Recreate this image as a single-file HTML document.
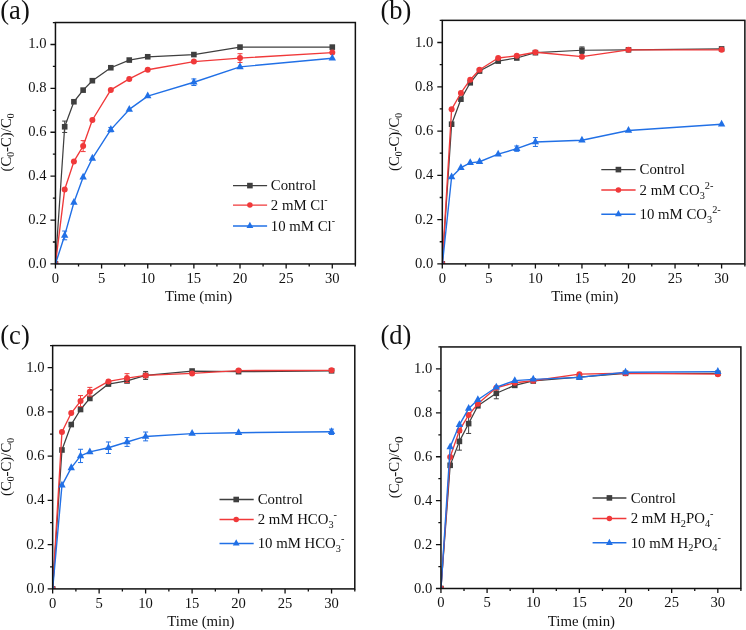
<!DOCTYPE html>
<html><head><meta charset="utf-8"><style>
html,body{margin:0;padding:0;background:#fff;overflow:hidden;}
svg{display:block;will-change:transform;}
text{font-family:"Liberation Serif", serif;fill:#111;}
</style></head><body>
<svg width="746" height="630" viewBox="0 0 746 630">
<rect width="746" height="630" fill="#fff"/>
<clipPath id="clipa"><rect x="55.45" y="22.53" width="299.91" height="241.42"/></clipPath>
<g clip-path="url(#clipa)">
<polyline points="55.45,263.95 64.68,126.78 73.91,101.76 83.13,90.13 92.36,80.69 110.82,67.74 129.27,60.06 147.73,56.77 193.87,54.58 240.01,47.11 332.29,47.11" fill="none" stroke="#3f3f3f" stroke-width="1.25" stroke-linejoin="round"/>
<path d="M64.68,121.08 V132.49 M62.18,121.08 H67.18 M62.18,132.49 H67.18" stroke="#3f3f3f" stroke-width="1" fill="none"/>
<rect x="52.65" y="261.15" width="5.60" height="5.60" fill="#3f3f3f"/>
<rect x="61.88" y="123.98" width="5.60" height="5.60" fill="#3f3f3f"/>
<rect x="71.11" y="98.96" width="5.60" height="5.60" fill="#3f3f3f"/>
<rect x="80.33" y="87.33" width="5.60" height="5.60" fill="#3f3f3f"/>
<rect x="89.56" y="77.89" width="5.60" height="5.60" fill="#3f3f3f"/>
<rect x="108.02" y="64.94" width="5.60" height="5.60" fill="#3f3f3f"/>
<rect x="126.47" y="57.26" width="5.60" height="5.60" fill="#3f3f3f"/>
<rect x="144.93" y="53.97" width="5.60" height="5.60" fill="#3f3f3f"/>
<rect x="191.07" y="51.78" width="5.60" height="5.60" fill="#3f3f3f"/>
<rect x="237.21" y="44.31" width="5.60" height="5.60" fill="#3f3f3f"/>
<rect x="329.49" y="44.31" width="5.60" height="5.60" fill="#3f3f3f"/>
<polyline points="55.45,263.95 64.68,189.55 73.91,161.46 83.13,146.09 92.36,119.98 110.82,89.91 129.27,78.94 147.73,69.72 193.87,61.60 240.01,58.09 332.29,52.60" fill="none" stroke="#f0393a" stroke-width="1.35" stroke-linejoin="round"/>
<path d="M83.13,140.61 V151.58 M80.63,140.61 H85.63 M80.63,151.58 H85.63" stroke="#f0393a" stroke-width="1" fill="none"/>
<path d="M240.01,53.70 V62.48 M237.51,53.70 H242.51 M237.51,62.48 H242.51" stroke="#f0393a" stroke-width="1" fill="none"/>
<circle cx="55.45" cy="263.95" r="3.00" fill="#f0393a"/>
<circle cx="64.68" cy="189.55" r="3.00" fill="#f0393a"/>
<circle cx="73.91" cy="161.46" r="3.00" fill="#f0393a"/>
<circle cx="83.13" cy="146.09" r="3.00" fill="#f0393a"/>
<circle cx="92.36" cy="119.98" r="3.00" fill="#f0393a"/>
<circle cx="110.82" cy="89.91" r="3.00" fill="#f0393a"/>
<circle cx="129.27" cy="78.94" r="3.00" fill="#f0393a"/>
<circle cx="147.73" cy="69.72" r="3.00" fill="#f0393a"/>
<circle cx="193.87" cy="61.60" r="3.00" fill="#f0393a"/>
<circle cx="240.01" cy="58.09" r="3.00" fill="#f0393a"/>
<circle cx="332.29" cy="52.60" r="3.00" fill="#f0393a"/>
<polyline points="55.45,263.95 64.68,235.42 73.91,202.50 83.13,177.26 92.36,158.38 110.82,129.63 129.27,109.44 147.73,96.06 193.87,82.23 240.01,66.87 332.29,58.31" fill="none" stroke="#2170e6" stroke-width="1.4" stroke-linejoin="round"/>
<path d="M64.68,231.03 V239.81 M62.18,231.03 H67.18 M62.18,239.81 H67.18" stroke="#2170e6" stroke-width="1" fill="none"/>
<path d="M110.82,127.44 V131.83 M108.32,127.44 H113.32 M108.32,131.83 H113.32" stroke="#2170e6" stroke-width="1" fill="none"/>
<path d="M193.87,78.94 V85.52 M191.37,78.94 H196.37 M191.37,85.52 H196.37" stroke="#2170e6" stroke-width="1" fill="none"/>
<path d="M55.45,259.42 L59.15,266.22 L51.75,266.22 Z" fill="#2170e6"/>
<path d="M64.68,230.89 L68.38,237.69 L60.98,237.69 Z" fill="#2170e6"/>
<path d="M73.91,197.97 L77.61,204.77 L70.21,204.77 Z" fill="#2170e6"/>
<path d="M83.13,172.73 L86.83,179.53 L79.43,179.53 Z" fill="#2170e6"/>
<path d="M92.36,153.85 L96.06,160.65 L88.66,160.65 Z" fill="#2170e6"/>
<path d="M110.82,125.10 L114.52,131.90 L107.12,131.90 Z" fill="#2170e6"/>
<path d="M129.27,104.91 L132.97,111.71 L125.57,111.71 Z" fill="#2170e6"/>
<path d="M147.73,91.52 L151.43,98.32 L144.03,98.32 Z" fill="#2170e6"/>
<path d="M193.87,77.70 L197.57,84.50 L190.17,84.50 Z" fill="#2170e6"/>
<path d="M240.01,62.33 L243.71,69.13 L236.31,69.13 Z" fill="#2170e6"/>
<path d="M332.29,53.77 L335.99,60.57 L328.59,60.57 Z" fill="#2170e6"/>
</g>
<rect x="55.45" y="22.53" width="299.91" height="241.42" fill="none" stroke="#111" stroke-width="1.5"/>
<path d="M55.45,263.95 V268.55 M78.52,263.95 V266.55 M101.59,263.95 V268.55 M124.66,263.95 V266.55 M147.73,263.95 V268.55 M170.80,263.95 V266.55 M193.87,263.95 V268.55 M216.94,263.95 V266.55 M240.01,263.95 V268.55 M263.08,263.95 V266.55 M286.15,263.95 V268.55 M309.22,263.95 V266.55 M332.29,263.95 V268.55 M355.36,263.95 V266.55 M55.45,263.95 H50.45 M55.45,242.00 H52.85 M55.45,220.06 H50.45 M55.45,198.11 H52.85 M55.45,176.16 H50.45 M55.45,154.21 H52.85 M55.45,132.27 H50.45 M55.45,110.32 H52.85 M55.45,88.37 H50.45 M55.45,66.43 H52.85 M55.45,44.48 H50.45 M55.45,22.53 H52.85" stroke="#111" stroke-width="1.3" fill="none"/>
<text x="55.45" y="282.55" text-anchor="middle" font-size="14.6">0</text>
<text x="101.59" y="282.55" text-anchor="middle" font-size="14.6">5</text>
<text x="147.73" y="282.55" text-anchor="middle" font-size="14.6">10</text>
<text x="193.87" y="282.55" text-anchor="middle" font-size="14.6">15</text>
<text x="240.01" y="282.55" text-anchor="middle" font-size="14.6">20</text>
<text x="286.15" y="282.55" text-anchor="middle" font-size="14.6">25</text>
<text x="332.29" y="282.55" text-anchor="middle" font-size="14.6">30</text>
<text x="46.45" y="267.95" text-anchor="end" font-size="14.6">0.0</text>
<text x="46.45" y="224.06" text-anchor="end" font-size="14.6">0.2</text>
<text x="46.45" y="180.16" text-anchor="end" font-size="14.6">0.4</text>
<text x="46.45" y="136.27" text-anchor="end" font-size="14.6">0.6</text>
<text x="46.45" y="92.37" text-anchor="end" font-size="14.6">0.8</text>
<text x="46.45" y="48.48" text-anchor="end" font-size="14.6">1.0</text>
<text x="198.60" y="301.30" text-anchor="middle" font-size="14.8">Time (min)</text>
<text transform="translate(11.00,142.50) rotate(-90)" text-anchor="middle" font-size="14.8">(C<tspan dy="3" font-size="9.5">0</tspan><tspan dy="-3">-C)/C</tspan><tspan dy="3" font-size="9.5">0</tspan></text>
<text x="0.30" y="18.80" font-size="26.5">(a)</text>
<line x1="233.00" y1="185.60" x2="267.10" y2="185.60" stroke="#3f3f3f" stroke-width="1.45"/>
<rect x="247.10" y="182.80" width="5.60" height="5.60" fill="#3f3f3f"/>
<text x="270.80" y="190.40" font-size="14.8">Control</text>
<line x1="233.00" y1="205.10" x2="267.10" y2="205.10" stroke="#f0393a" stroke-width="1.45"/>
<circle cx="249.90" cy="205.10" r="2.76" fill="#f0393a"/>
<text x="270.80" y="209.90" font-size="14.8">2 mM Cl<tspan dy="-6.8" font-size="10">-</tspan></text>
<line x1="233.00" y1="226.00" x2="267.10" y2="226.00" stroke="#2170e6" stroke-width="1.45"/>
<path d="M249.90,221.83 L253.30,228.09 L246.50,228.09 Z" fill="#2170e6"/>
<text x="270.80" y="230.80" font-size="14.8">10 mM Cl<tspan dy="-6.8" font-size="10">-</tspan></text>
<clipPath id="clipb"><rect x="442.30" y="20.36" width="302.57" height="243.54"/></clipPath>
<g clip-path="url(#clipb)">
<polyline points="442.30,263.90 451.61,124.20 460.92,99.18 470.23,82.79 479.54,71.06 498.16,61.10 516.78,58.00 535.40,52.68 581.95,50.25 628.50,49.81 721.60,48.92" fill="none" stroke="#3f3f3f" stroke-width="1.25" stroke-linejoin="round"/>
<path d="M581.95,46.93 V53.57 M579.45,46.93 H584.45 M579.45,53.57 H584.45" stroke="#3f3f3f" stroke-width="1" fill="none"/>
<rect x="439.50" y="261.10" width="5.60" height="5.60" fill="#3f3f3f"/>
<rect x="448.81" y="121.40" width="5.60" height="5.60" fill="#3f3f3f"/>
<rect x="458.12" y="96.38" width="5.60" height="5.60" fill="#3f3f3f"/>
<rect x="467.43" y="79.99" width="5.60" height="5.60" fill="#3f3f3f"/>
<rect x="476.74" y="68.26" width="5.60" height="5.60" fill="#3f3f3f"/>
<rect x="495.36" y="58.30" width="5.60" height="5.60" fill="#3f3f3f"/>
<rect x="513.98" y="55.20" width="5.60" height="5.60" fill="#3f3f3f"/>
<rect x="532.60" y="49.88" width="5.60" height="5.60" fill="#3f3f3f"/>
<rect x="579.15" y="47.45" width="5.60" height="5.60" fill="#3f3f3f"/>
<rect x="625.70" y="47.01" width="5.60" height="5.60" fill="#3f3f3f"/>
<rect x="718.80" y="46.12" width="5.60" height="5.60" fill="#3f3f3f"/>
<polyline points="442.30,263.90 451.61,109.36 460.92,92.98 470.23,79.70 479.54,69.73 498.16,58.00 516.78,55.78 535.40,52.24 581.95,56.67 628.50,49.81 721.60,49.81" fill="none" stroke="#f0393a" stroke-width="1.35" stroke-linejoin="round"/>
<circle cx="442.30" cy="263.90" r="3.00" fill="#f0393a"/>
<circle cx="451.61" cy="109.36" r="3.00" fill="#f0393a"/>
<circle cx="460.92" cy="92.98" r="3.00" fill="#f0393a"/>
<circle cx="470.23" cy="79.70" r="3.00" fill="#f0393a"/>
<circle cx="479.54" cy="69.73" r="3.00" fill="#f0393a"/>
<circle cx="498.16" cy="58.00" r="3.00" fill="#f0393a"/>
<circle cx="516.78" cy="55.78" r="3.00" fill="#f0393a"/>
<circle cx="535.40" cy="52.24" r="3.00" fill="#f0393a"/>
<circle cx="581.95" cy="56.67" r="3.00" fill="#f0393a"/>
<circle cx="628.50" cy="49.81" r="3.00" fill="#f0393a"/>
<circle cx="721.60" cy="49.81" r="3.00" fill="#f0393a"/>
<polyline points="442.30,264.90 451.61,177.00 460.92,167.71 470.23,162.83 479.54,161.73 498.16,154.20 516.78,148.66 535.40,142.02 581.95,140.25 628.50,130.51 721.60,124.31" fill="none" stroke="#2170e6" stroke-width="1.4" stroke-linejoin="round"/>
<path d="M516.78,146.01 V151.32 M514.28,146.01 H519.28 M514.28,151.32 H519.28" stroke="#2170e6" stroke-width="1" fill="none"/>
<path d="M535.40,137.59 V146.45 M532.90,137.59 H537.90 M532.90,146.45 H537.90" stroke="#2170e6" stroke-width="1" fill="none"/>
<path d="M442.30,260.37 L446.00,267.17 L438.60,267.17 Z" fill="#2170e6"/>
<path d="M451.61,172.47 L455.31,179.27 L447.91,179.27 Z" fill="#2170e6"/>
<path d="M460.92,163.17 L464.62,169.97 L457.22,169.97 Z" fill="#2170e6"/>
<path d="M470.23,158.30 L473.93,165.10 L466.53,165.10 Z" fill="#2170e6"/>
<path d="M479.54,157.19 L483.24,163.99 L475.84,163.99 Z" fill="#2170e6"/>
<path d="M498.16,149.67 L501.86,156.47 L494.46,156.47 Z" fill="#2170e6"/>
<path d="M516.78,144.13 L520.48,150.93 L513.08,150.93 Z" fill="#2170e6"/>
<path d="M535.40,137.49 L539.10,144.29 L531.70,144.29 Z" fill="#2170e6"/>
<path d="M581.95,135.72 L585.65,142.52 L578.25,142.52 Z" fill="#2170e6"/>
<path d="M628.50,125.98 L632.20,132.78 L624.80,132.78 Z" fill="#2170e6"/>
<path d="M721.60,119.78 L725.30,126.58 L717.90,126.58 Z" fill="#2170e6"/>
</g>
<rect x="442.30" y="20.36" width="302.57" height="243.54" fill="none" stroke="#111" stroke-width="1.5"/>
<path d="M442.30,263.90 V268.50 M465.57,263.90 V266.50 M488.85,263.90 V268.50 M512.12,263.90 V266.50 M535.40,263.90 V268.50 M558.67,263.90 V266.50 M581.95,263.90 V268.50 M605.23,263.90 V266.50 M628.50,263.90 V268.50 M651.78,263.90 V266.50 M675.05,263.90 V268.50 M698.33,263.90 V266.50 M721.60,263.90 V268.50 M744.88,263.90 V266.50 M442.30,263.90 H437.30 M442.30,241.76 H439.70 M442.30,219.62 H437.30 M442.30,197.48 H439.70 M442.30,175.34 H437.30 M442.30,153.20 H439.70 M442.30,131.06 H437.30 M442.30,108.92 H439.70 M442.30,86.78 H437.30 M442.30,64.64 H439.70 M442.30,42.50 H437.30 M442.30,20.36 H439.70" stroke="#111" stroke-width="1.3" fill="none"/>
<text x="442.30" y="282.90" text-anchor="middle" font-size="14.6">0</text>
<text x="488.85" y="282.90" text-anchor="middle" font-size="14.6">5</text>
<text x="535.40" y="282.90" text-anchor="middle" font-size="14.6">10</text>
<text x="581.95" y="282.90" text-anchor="middle" font-size="14.6">15</text>
<text x="628.50" y="282.90" text-anchor="middle" font-size="14.6">20</text>
<text x="675.05" y="282.90" text-anchor="middle" font-size="14.6">25</text>
<text x="721.60" y="282.90" text-anchor="middle" font-size="14.6">30</text>
<text x="433.30" y="267.90" text-anchor="end" font-size="14.6">0.0</text>
<text x="433.30" y="223.62" text-anchor="end" font-size="14.6">0.2</text>
<text x="433.30" y="179.34" text-anchor="end" font-size="14.6">0.4</text>
<text x="433.30" y="135.06" text-anchor="end" font-size="14.6">0.6</text>
<text x="433.30" y="90.78" text-anchor="end" font-size="14.6">0.8</text>
<text x="433.30" y="46.50" text-anchor="end" font-size="14.6">1.0</text>
<text x="584.80" y="301.30" text-anchor="middle" font-size="14.8">Time (min)</text>
<text transform="translate(398.60,142.00) rotate(-90)" text-anchor="middle" font-size="14.8">(C<tspan dy="3" font-size="9.5">0</tspan><tspan dy="-3">-C)/C</tspan><tspan dy="3" font-size="9.5">0</tspan></text>
<text x="380.50" y="18.80" font-size="26.5">(b)</text>
<line x1="601.30" y1="169.60" x2="635.60" y2="169.60" stroke="#3f3f3f" stroke-width="1.45"/>
<rect x="615.60" y="166.80" width="5.60" height="5.60" fill="#3f3f3f"/>
<text x="639.60" y="174.40" font-size="14.8">Control</text>
<line x1="601.30" y1="189.90" x2="635.60" y2="189.90" stroke="#f0393a" stroke-width="1.45"/>
<circle cx="618.40" cy="189.90" r="2.76" fill="#f0393a"/>
<text x="639.60" y="194.70" font-size="14.8">2 mM CO<tspan dy="3.8" font-size="10.3">3</tspan><tspan dy="-9.8" font-size="10.3">2-</tspan></text>
<line x1="601.30" y1="214.20" x2="635.60" y2="214.20" stroke="#2170e6" stroke-width="1.45"/>
<path d="M618.40,210.03 L621.80,216.29 L615.00,216.29 Z" fill="#2170e6"/>
<text x="639.60" y="219.00" font-size="14.8">10 mM CO<tspan dy="3.8" font-size="10.3">3</tspan><tspan dy="-9.8" font-size="10.3">2-</tspan></text>
<clipPath id="clipc"><rect x="52.65" y="345.58" width="302.15" height="243.32"/></clipPath>
<g clip-path="url(#clipc)">
<polyline points="52.65,588.90 61.95,449.99 71.24,424.55 80.54,409.51 89.84,398.45 108.43,384.07 127.03,380.97 145.62,375.44 192.11,371.02 238.59,371.68 331.56,370.80" fill="none" stroke="#3f3f3f" stroke-width="1.25" stroke-linejoin="round"/>
<path d="M145.62,371.46 V379.42 M143.12,371.46 H148.12 M143.12,379.42 H148.12" stroke="#3f3f3f" stroke-width="1" fill="none"/>
<rect x="49.85" y="586.10" width="5.60" height="5.60" fill="#3f3f3f"/>
<rect x="59.15" y="447.19" width="5.60" height="5.60" fill="#3f3f3f"/>
<rect x="68.44" y="421.75" width="5.60" height="5.60" fill="#3f3f3f"/>
<rect x="77.74" y="406.71" width="5.60" height="5.60" fill="#3f3f3f"/>
<rect x="87.04" y="395.65" width="5.60" height="5.60" fill="#3f3f3f"/>
<rect x="105.63" y="381.27" width="5.60" height="5.60" fill="#3f3f3f"/>
<rect x="124.23" y="378.17" width="5.60" height="5.60" fill="#3f3f3f"/>
<rect x="142.82" y="372.64" width="5.60" height="5.60" fill="#3f3f3f"/>
<rect x="189.31" y="368.22" width="5.60" height="5.60" fill="#3f3f3f"/>
<rect x="235.79" y="368.88" width="5.60" height="5.60" fill="#3f3f3f"/>
<rect x="328.76" y="368.00" width="5.60" height="5.60" fill="#3f3f3f"/>
<polyline points="52.65,588.90 61.95,432.07 71.24,413.05 80.54,401.10 89.84,391.81 108.43,381.41 127.03,378.10 145.62,375.44 192.11,373.45 238.59,370.58 331.56,370.35" fill="none" stroke="#f0393a" stroke-width="1.35" stroke-linejoin="round"/>
<path d="M80.54,395.57 V406.63 M78.04,395.57 H83.04 M78.04,406.63 H83.04" stroke="#f0393a" stroke-width="1" fill="none"/>
<path d="M89.84,387.39 V396.23 M87.34,387.39 H92.34 M87.34,396.23 H92.34" stroke="#f0393a" stroke-width="1" fill="none"/>
<path d="M127.03,373.67 V382.52 M124.53,373.67 H129.53 M124.53,382.52 H129.53" stroke="#f0393a" stroke-width="1" fill="none"/>
<circle cx="52.65" cy="588.90" r="3.00" fill="#f0393a"/>
<circle cx="61.95" cy="432.07" r="3.00" fill="#f0393a"/>
<circle cx="71.24" cy="413.05" r="3.00" fill="#f0393a"/>
<circle cx="80.54" cy="401.10" r="3.00" fill="#f0393a"/>
<circle cx="89.84" cy="391.81" r="3.00" fill="#f0393a"/>
<circle cx="108.43" cy="381.41" r="3.00" fill="#f0393a"/>
<circle cx="127.03" cy="378.10" r="3.00" fill="#f0393a"/>
<circle cx="145.62" cy="375.44" r="3.00" fill="#f0393a"/>
<circle cx="192.11" cy="373.45" r="3.00" fill="#f0393a"/>
<circle cx="238.59" cy="370.58" r="3.00" fill="#f0393a"/>
<circle cx="331.56" cy="370.35" r="3.00" fill="#f0393a"/>
<polyline points="52.65,589.30 61.95,485.34 71.24,467.86 80.54,455.92 89.84,451.93 108.43,447.73 127.03,441.98 145.62,436.45 192.11,433.58 238.59,432.69 331.56,431.81" fill="none" stroke="#2170e6" stroke-width="1.4" stroke-linejoin="round"/>
<path d="M80.54,449.28 V462.55 M78.04,449.28 H83.04 M78.04,462.55 H83.04" stroke="#2170e6" stroke-width="1" fill="none"/>
<path d="M108.43,441.98 V453.48 M105.93,441.98 H110.93 M105.93,453.48 H110.93" stroke="#2170e6" stroke-width="1" fill="none"/>
<path d="M127.03,437.56 V446.40 M124.53,437.56 H129.53 M124.53,446.40 H129.53" stroke="#2170e6" stroke-width="1" fill="none"/>
<path d="M145.62,432.03 V440.87 M143.12,432.03 H148.12 M143.12,440.87 H148.12" stroke="#2170e6" stroke-width="1" fill="none"/>
<path d="M331.56,429.15 V434.46 M329.06,429.15 H334.06 M329.06,434.46 H334.06" stroke="#2170e6" stroke-width="1" fill="none"/>
<path d="M52.65,584.77 L56.35,591.57 L48.95,591.57 Z" fill="#2170e6"/>
<path d="M61.95,480.80 L65.65,487.60 L58.25,487.60 Z" fill="#2170e6"/>
<path d="M71.24,463.33 L74.94,470.13 L67.54,470.13 Z" fill="#2170e6"/>
<path d="M80.54,451.38 L84.24,458.18 L76.84,458.18 Z" fill="#2170e6"/>
<path d="M89.84,447.40 L93.54,454.20 L86.14,454.20 Z" fill="#2170e6"/>
<path d="M108.43,443.20 L112.13,450.00 L104.73,450.00 Z" fill="#2170e6"/>
<path d="M127.03,437.45 L130.73,444.25 L123.33,444.25 Z" fill="#2170e6"/>
<path d="M145.62,431.92 L149.32,438.72 L141.92,438.72 Z" fill="#2170e6"/>
<path d="M192.11,429.04 L195.81,435.84 L188.41,435.84 Z" fill="#2170e6"/>
<path d="M238.59,428.16 L242.29,434.96 L234.89,434.96 Z" fill="#2170e6"/>
<path d="M331.56,427.27 L335.26,434.07 L327.86,434.07 Z" fill="#2170e6"/>
</g>
<rect x="52.65" y="345.58" width="302.15" height="243.32" fill="none" stroke="#111" stroke-width="1.5"/>
<path d="M52.65,588.90 V593.50 M75.89,588.90 V591.50 M99.13,588.90 V593.50 M122.38,588.90 V591.50 M145.62,588.90 V593.50 M168.86,588.90 V591.50 M192.11,588.90 V593.50 M215.35,588.90 V591.50 M238.59,588.90 V593.50 M261.83,588.90 V591.50 M285.07,588.90 V593.50 M308.32,588.90 V591.50 M331.56,588.90 V593.50 M354.80,588.90 V591.50 M52.65,588.90 H47.65 M52.65,566.78 H50.05 M52.65,544.66 H47.65 M52.65,522.54 H50.05 M52.65,500.42 H47.65 M52.65,478.30 H50.05 M52.65,456.18 H47.65 M52.65,434.06 H50.05 M52.65,411.94 H47.65 M52.65,389.82 H50.05 M52.65,367.70 H47.65 M52.65,345.58 H50.05" stroke="#111" stroke-width="1.3" fill="none"/>
<text x="52.65" y="608.20" text-anchor="middle" font-size="14.6">0</text>
<text x="99.13" y="608.20" text-anchor="middle" font-size="14.6">5</text>
<text x="145.62" y="608.20" text-anchor="middle" font-size="14.6">10</text>
<text x="192.11" y="608.20" text-anchor="middle" font-size="14.6">15</text>
<text x="238.59" y="608.20" text-anchor="middle" font-size="14.6">20</text>
<text x="285.07" y="608.20" text-anchor="middle" font-size="14.6">25</text>
<text x="331.56" y="608.20" text-anchor="middle" font-size="14.6">30</text>
<text x="44.45" y="592.90" text-anchor="end" font-size="14.6">0.0</text>
<text x="44.45" y="548.66" text-anchor="end" font-size="14.6">0.2</text>
<text x="44.45" y="504.42" text-anchor="end" font-size="14.6">0.4</text>
<text x="44.45" y="460.18" text-anchor="end" font-size="14.6">0.6</text>
<text x="44.45" y="415.94" text-anchor="end" font-size="14.6">0.8</text>
<text x="44.45" y="371.70" text-anchor="end" font-size="14.6">1.0</text>
<text x="200.90" y="626.00" text-anchor="middle" font-size="14.8">Time (min)</text>
<text transform="translate(11.20,467.00) rotate(-90)" text-anchor="middle" font-size="14.8">(C<tspan dy="3" font-size="9.5">0</tspan><tspan dy="-3">-C)/C</tspan><tspan dy="3" font-size="9.5">0</tspan></text>
<text x="0.30" y="344.00" font-size="26.5">(c)</text>
<line x1="219.50" y1="499.50" x2="253.70" y2="499.50" stroke="#3f3f3f" stroke-width="1.45"/>
<rect x="233.40" y="496.70" width="5.60" height="5.60" fill="#3f3f3f"/>
<text x="257.70" y="504.30" font-size="14.8">Control</text>
<line x1="219.50" y1="519.50" x2="253.70" y2="519.50" stroke="#f0393a" stroke-width="1.45"/>
<circle cx="236.20" cy="519.50" r="2.76" fill="#f0393a"/>
<text x="257.70" y="524.30" font-size="14.8">2 mM HCO<tspan dy="3.8" font-size="10.3">3</tspan><tspan dy="-10.3" font-size="10.3">-</tspan></text>
<line x1="219.50" y1="543.50" x2="253.70" y2="543.50" stroke="#2170e6" stroke-width="1.45"/>
<path d="M236.20,539.33 L239.60,545.59 L232.80,545.59 Z" fill="#2170e6"/>
<text x="257.70" y="548.30" font-size="14.8">10 mM HCO<tspan dy="3.8" font-size="10.3">3</tspan><tspan dy="-10.3" font-size="10.3">-</tspan></text>
<clipPath id="clipd"><rect x="440.95" y="346.94" width="299.94" height="241.56"/></clipPath>
<g clip-path="url(#clipd)">
<polyline points="440.95,588.50 450.18,465.30 459.41,441.37 468.64,423.58 477.87,405.79 496.32,393.28 514.78,385.37 533.24,380.98 579.38,377.03 625.53,373.29 717.82,373.29" fill="none" stroke="#3f3f3f" stroke-width="1.25" stroke-linejoin="round"/>
<path d="M459.41,432.58 V450.15 M456.91,432.58 H461.91 M456.91,450.15 H461.91" stroke="#3f3f3f" stroke-width="1" fill="none"/>
<path d="M468.64,413.70 V433.46 M466.14,413.70 H471.14 M466.14,433.46 H471.14" stroke="#3f3f3f" stroke-width="1" fill="none"/>
<path d="M496.32,387.79 V398.77 M493.82,387.79 H498.82 M493.82,398.77 H498.82" stroke="#3f3f3f" stroke-width="1" fill="none"/>
<rect x="438.15" y="585.70" width="5.60" height="5.60" fill="#3f3f3f"/>
<rect x="447.38" y="462.50" width="5.60" height="5.60" fill="#3f3f3f"/>
<rect x="456.61" y="438.57" width="5.60" height="5.60" fill="#3f3f3f"/>
<rect x="465.84" y="420.78" width="5.60" height="5.60" fill="#3f3f3f"/>
<rect x="475.07" y="402.99" width="5.60" height="5.60" fill="#3f3f3f"/>
<rect x="493.52" y="390.48" width="5.60" height="5.60" fill="#3f3f3f"/>
<rect x="511.98" y="382.57" width="5.60" height="5.60" fill="#3f3f3f"/>
<rect x="530.44" y="378.18" width="5.60" height="5.60" fill="#3f3f3f"/>
<rect x="576.59" y="374.23" width="5.60" height="5.60" fill="#3f3f3f"/>
<rect x="622.73" y="370.49" width="5.60" height="5.60" fill="#3f3f3f"/>
<rect x="715.02" y="370.49" width="5.60" height="5.60" fill="#3f3f3f"/>
<polyline points="440.95,588.50 450.18,456.96 459.41,430.39 468.64,415.02 477.87,403.82 496.32,387.79 514.78,382.73 533.24,380.76 579.38,374.17 625.53,373.29 717.82,374.17" fill="none" stroke="#f0393a" stroke-width="1.35" stroke-linejoin="round"/>
<circle cx="440.95" cy="588.50" r="3.00" fill="#f0393a"/>
<circle cx="450.18" cy="456.96" r="3.00" fill="#f0393a"/>
<circle cx="459.41" cy="430.39" r="3.00" fill="#f0393a"/>
<circle cx="468.64" cy="415.02" r="3.00" fill="#f0393a"/>
<circle cx="477.87" cy="403.82" r="3.00" fill="#f0393a"/>
<circle cx="496.32" cy="387.79" r="3.00" fill="#f0393a"/>
<circle cx="514.78" cy="382.73" r="3.00" fill="#f0393a"/>
<circle cx="533.24" cy="380.76" r="3.00" fill="#f0393a"/>
<circle cx="579.38" cy="374.17" r="3.00" fill="#f0393a"/>
<circle cx="625.53" cy="373.29" r="3.00" fill="#f0393a"/>
<circle cx="717.82" cy="374.17" r="3.00" fill="#f0393a"/>
<polyline points="440.95,589.50 450.18,446.98 459.41,424.80 468.64,408.55 477.87,399.77 496.32,387.25 514.78,380.66 533.24,379.34 579.38,377.37 625.53,372.32 717.82,371.66" fill="none" stroke="#2170e6" stroke-width="1.4" stroke-linejoin="round"/>
<path d="M440.95,584.97 L444.65,591.77 L437.25,591.77 Z" fill="#2170e6"/>
<path d="M450.18,442.45 L453.88,449.25 L446.48,449.25 Z" fill="#2170e6"/>
<path d="M459.41,420.27 L463.11,427.07 L455.71,427.07 Z" fill="#2170e6"/>
<path d="M468.64,404.02 L472.34,410.82 L464.94,410.82 Z" fill="#2170e6"/>
<path d="M477.87,395.23 L481.57,402.03 L474.17,402.03 Z" fill="#2170e6"/>
<path d="M496.32,382.72 L500.02,389.52 L492.62,389.52 Z" fill="#2170e6"/>
<path d="M514.78,376.13 L518.48,382.93 L511.08,382.93 Z" fill="#2170e6"/>
<path d="M533.24,374.81 L536.94,381.61 L529.54,381.61 Z" fill="#2170e6"/>
<path d="M579.38,372.83 L583.09,379.63 L575.68,379.63 Z" fill="#2170e6"/>
<path d="M625.53,367.78 L629.23,374.58 L621.83,374.58 Z" fill="#2170e6"/>
<path d="M717.82,367.12 L721.52,373.92 L714.12,373.92 Z" fill="#2170e6"/>
</g>
<rect x="440.95" y="346.94" width="299.94" height="241.56" fill="none" stroke="#111" stroke-width="1.5"/>
<path d="M440.95,588.50 V593.10 M464.02,588.50 V591.10 M487.09,588.50 V593.10 M510.17,588.50 V591.10 M533.24,588.50 V593.10 M556.31,588.50 V591.10 M579.38,588.50 V593.10 M602.46,588.50 V591.10 M625.53,588.50 V593.10 M648.60,588.50 V591.10 M671.67,588.50 V593.10 M694.75,588.50 V591.10 M717.82,588.50 V593.10 M740.89,588.50 V591.10 M440.95,588.50 H435.95 M440.95,566.54 H438.35 M440.95,544.58 H435.95 M440.95,522.62 H438.35 M440.95,500.66 H435.95 M440.95,478.70 H438.35 M440.95,456.74 H435.95 M440.95,434.78 H438.35 M440.95,412.82 H435.95 M440.95,390.86 H438.35 M440.95,368.90 H435.95 M440.95,346.94 H438.35" stroke="#111" stroke-width="1.3" fill="none"/>
<text x="440.95" y="607.10" text-anchor="middle" font-size="14.6">0</text>
<text x="487.09" y="607.10" text-anchor="middle" font-size="14.6">5</text>
<text x="533.24" y="607.10" text-anchor="middle" font-size="14.6">10</text>
<text x="579.38" y="607.10" text-anchor="middle" font-size="14.6">15</text>
<text x="625.53" y="607.10" text-anchor="middle" font-size="14.6">20</text>
<text x="671.67" y="607.10" text-anchor="middle" font-size="14.6">25</text>
<text x="717.82" y="607.10" text-anchor="middle" font-size="14.6">30</text>
<text x="432.25" y="592.50" text-anchor="end" font-size="14.6">0.0</text>
<text x="432.25" y="548.58" text-anchor="end" font-size="14.6">0.2</text>
<text x="432.25" y="504.66" text-anchor="end" font-size="14.6">0.4</text>
<text x="432.25" y="460.74" text-anchor="end" font-size="14.6">0.6</text>
<text x="432.25" y="416.82" text-anchor="end" font-size="14.6">0.8</text>
<text x="432.25" y="372.90" text-anchor="end" font-size="14.6">1.0</text>
<text x="581.40" y="626.00" text-anchor="middle" font-size="14.8">Time (min)</text>
<text transform="translate(399.20,467.20) rotate(-90)" text-anchor="middle" font-size="14.8">(C<tspan dy="4.0" font-size="13.5">0</tspan><tspan dy="-4.0">-C)/C</tspan><tspan dy="4.0" font-size="13.5">0</tspan></text>
<text x="380.50" y="343.50" font-size="26.5">(d)</text>
<line x1="592.60" y1="497.90" x2="626.40" y2="497.90" stroke="#3f3f3f" stroke-width="1.45"/>
<rect x="606.60" y="495.10" width="5.60" height="5.60" fill="#3f3f3f"/>
<text x="630.70" y="502.70" font-size="14.8">Control</text>
<line x1="592.60" y1="518.40" x2="626.40" y2="518.40" stroke="#f0393a" stroke-width="1.45"/>
<circle cx="609.40" cy="518.40" r="2.76" fill="#f0393a"/>
<text x="630.70" y="523.20" font-size="14.8">2 mM H<tspan dy="3.8" font-size="10.3">2</tspan><tspan dy="-3.8">PO</tspan><tspan dy="3.8" font-size="10.3">4</tspan><tspan dy="-10.3" font-size="10.3">-</tspan></text>
<line x1="592.60" y1="542.80" x2="626.40" y2="542.80" stroke="#2170e6" stroke-width="1.45"/>
<path d="M609.40,538.63 L612.80,544.89 L606.00,544.89 Z" fill="#2170e6"/>
<text x="630.70" y="547.60" font-size="14.8">10 mM H<tspan dy="3.8" font-size="10.3">2</tspan><tspan dy="-3.8">PO</tspan><tspan dy="3.8" font-size="10.3">4</tspan><tspan dy="-10.3" font-size="10.3">-</tspan></text>
</svg>
</body></html>
